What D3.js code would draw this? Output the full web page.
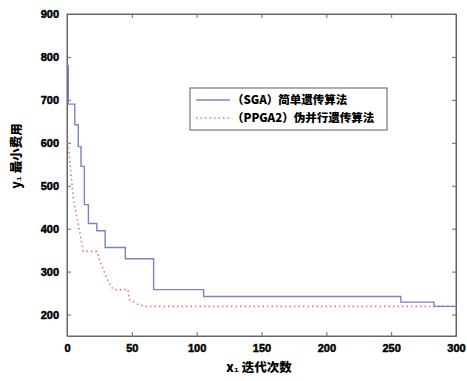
<!DOCTYPE html>
<html>
<head>
<meta charset="utf-8">
<script src="https://cdn.jsdelivr.net/npm/d3@7"></script>
<style>
  body { margin: 0; background: #fff; }
  .tick text { font-family: "Liberation Sans", Arial, sans-serif; font-weight: bold; font-size: 11px; fill: #000; stroke: #000; stroke-width: 0.5px; }
  .lbl { font-family: "Noto Sans CJK SC", sans-serif; font-weight: 900; font-size: 11.5px; fill: #000; }
</style>
</head>
<body>
<svg id="chart" width="467" height="381"></svg>
<script>
// iteration / cost pairs
const sgaIter = [0, 1, 6, 8.7, 10.8, 13.4, 16.5, 23, 29.4, 45, 66.8, 105.4, 257.5, 283, 300];
const sgaCost = [780, 690, 642, 591, 545, 456, 412, 395, 356, 330, 258, 242, 229, 219, 219];
const ppgaIter = [0, 2, 4, 5, 8, 10, 12.6, 23, 26, 30, 34, 36, 47, 48, 55, 60, 300];
const ppgaCost = [620, 560, 500, 467, 420, 390, 347, 347, 320, 290, 265, 258, 258, 235, 223, 219, 219];
const xTicks = [0, 50, 100, 150, 200, 250, 300];
const yTicks = [200, 300, 400, 500, 600, 700, 800, 900];
const legendNames = ["（SGA）简单遗传算法", "（PPGA2）伪并行遗传算法"];

const svg = d3.select("#chart");
const m = {left: 67, right: 456, top: 14, bottom: 336};

const x = d3.scaleLinear().domain([0, 300]).range([m.left, m.right]);
const y = d3.scaleLinear().domain([150, 900]).range([m.bottom, m.top]);

// frame
svg.append("rect")
  .attr("x", m.left).attr("y", m.top)
  .attr("width", m.right - m.left).attr("height", m.bottom - m.top)
  .attr("fill", "none").attr("stroke", "#666").attr("stroke-width", 1);

// axes, ticks pointing in
svg.append("g").attr("transform", "translate(0," + m.bottom + ")")
  .call(d3.axisBottom(x).tickValues(xTicks).tickSizeInner(-4).tickSizeOuter(0).tickPadding(8));
svg.append("g").attr("transform", "translate(" + m.left + ",0)")
  .call(d3.axisLeft(y).tickValues(yTicks).tickSizeInner(-4).tickSizeOuter(0).tickPadding(8));
svg.append("g").attr("transform", "translate(0," + m.top + ")")
  .call(d3.axisTop(x).tickValues(xTicks).tickSizeInner(-4).tickSizeOuter(0).tickFormat(""));
svg.append("g").attr("transform", "translate(" + m.right + ",0)")
  .call(d3.axisRight(y).tickValues(yTicks).tickSizeInner(-4).tickSizeOuter(0).tickFormat(""));
svg.selectAll(".domain").attr("stroke", "#666");
svg.selectAll(".tick line").attr("stroke", "#666");

// series
const sga = sgaIter.map((d, i) => [d, sgaCost[i]]);
const ppga = ppgaIter.map((d, i) => [d, ppgaCost[i]]);

svg.append("path")
  .datum(ppga)
  .attr("fill", "none")
  .attr("stroke", "#e27a7a")
  .attr("stroke-width", 1.6)
  .attr("stroke-dasharray", "1.5,3")
  .attr("d", d3.line().x(d => x(d[0])).y(d => y(d[1])));

svg.append("path")
  .datum(sga)
  .attr("fill", "none")
  .attr("stroke", "#7c82c8")
  .attr("stroke-width", 1.4)
  .attr("d", d3.line().curve(d3.curveStepAfter).x(d => x(d[0])).y(d => y(d[1])));

// legend
const lg = svg.append("g").attr("transform", "translate(190,88)");
lg.append("rect").attr("width", 197).attr("height", 42)
  .attr("fill", "#fff").attr("stroke", "#777").attr("stroke-width", 1.2);
lg.append("line").attr("x1", 6).attr("x2", 40).attr("y1", 12).attr("y2", 12)
  .attr("stroke", "#7c82c8").attr("stroke-width", 1.4);
lg.append("line").attr("x1", 6).attr("x2", 40).attr("y1", 30).attr("y2", 30)
  .attr("stroke", "#e27a7a").attr("stroke-width", 1.6).attr("stroke-dasharray", "1.5,3");
lg.selectAll("text.lbl").data(legendNames).enter().append("text")
  .attr("class", "lbl")
  .attr("x", 42)
  .attr("y", (d, i) => 16 + i * 18)
  .text(d => d);

// axis titles
svg.append("text").attr("class", "lbl")
  .attr("x", 259).attr("y", 372)
  .attr("text-anchor", "middle")
  .style("font-size", "12.5px")
  .text("x₁ 迭代次数");

svg.append("text").attr("class", "lbl")
  .attr("transform", "translate(21,156) rotate(-90)")
  .attr("text-anchor", "middle")
  .style("font-size", "12.5px")
  .text("y₁ 最小费用");
</script>
</body>
</html>
